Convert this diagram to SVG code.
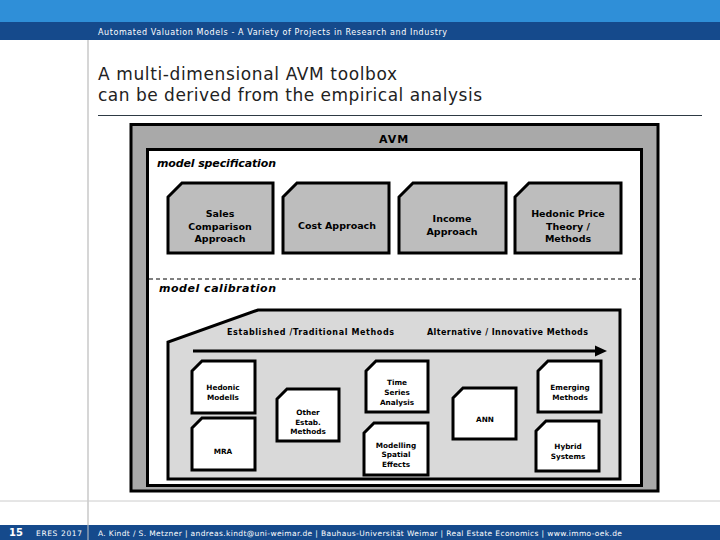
<svg xmlns="http://www.w3.org/2000/svg" width="720" height="540" viewBox="0 0 720 540">
<style>
.hdr{font-family:"DejaVu Sans",Verdana,sans-serif;font-size:8px;fill:#fff}
.title{font-family:"DejaVu Sans",Verdana,sans-serif;font-size:17px;fill:#222}
.foot{font-family:"DejaVu Sans",Verdana,sans-serif;font-size:7.5px;fill:#fff}
.sec{font-family:"DejaVu Sans",Verdana,sans-serif;font-size:11px;font-style:italic;font-weight:bold;fill:#000}
.spec{fill:#bdbdbd;stroke:#000;stroke-width:3}
.spect{font-family:"DejaVu Sans",Verdana,sans-serif;font-size:9.5px;font-weight:bold;fill:#000;text-anchor:middle}
.node{fill:#fff;stroke:#000;stroke-width:3}
.nodet{font-family:"DejaVu Sans",Verdana,sans-serif;font-size:7.3px;font-weight:bold;fill:#000;text-anchor:middle}
.grp{font-family:"DejaVu Sans",Verdana,sans-serif;font-size:8px;font-weight:bold;fill:#000}
</style>
<rect width="720" height="540" fill="#fff"/>
<rect x="0" y="0" width="720" height="22" fill="#2f8fd8"/>
<rect x="0" y="22" width="720" height="18" fill="#154a8c"/>
<text class="hdr" x="98" y="35" textLength="349">Automated Valuation Models - A Variety of Projects in Research and Industry</text>
<line x1="88" y1="40" x2="88" y2="525" stroke="#c8c8c8" stroke-width="1.5"/>
<text class="title" x="98" y="80" textLength="299">A multi-dimensional AVM toolbox</text>
<text class="title" x="98" y="101" textLength="384">can be derived from the empirical analysis</text>
<line x1="98" y1="115.5" x2="702" y2="115.5" stroke="#2e3a44" stroke-width="1"/>
<line x1="0" y1="501" x2="720" y2="501" stroke="#cccccc" stroke-width="1"/>
<rect x="0" y="525" width="720" height="15" fill="#154a8c"/>
<line x1="88" y1="525" x2="88" y2="540" stroke="#c8c8c8" stroke-width="1"/>
<text x="9" y="536" font-family="DejaVu Sans,Verdana,sans-serif" font-size="10" font-weight="bold" fill="#fff">15</text>
<text class="foot" x="36" y="536" textLength="46">ERES 2017</text>
<text class="foot" x="98" y="536" textLength="524">A. Kindt / S. Metzner | andreas.kindt@uni-weimar.de | Bauhaus-Universität Weimar | Real Estate Economics | www.immo-oek.de</text>

<g id="avm">
<rect x="131" y="124.5" width="527" height="366.5" fill="#a9a9a9" stroke="#000" stroke-width="3"/>
<text x="394" y="143" font-family="DejaVu Sans,Verdana,sans-serif" font-size="11" font-weight="bold" letter-spacing="1" text-anchor="middle">AVM</text>
<rect x="147.5" y="149.5" width="494" height="336" fill="#fff" stroke="#000" stroke-width="3"/>
<text class="sec" x="157" y="167" textLength="119">model specification</text>
<line x1="149" y1="279" x2="640" y2="279" stroke="#000" stroke-width="1" stroke-dasharray="4 3"/>
<text class="sec" x="159" y="292" font-size="12px" textLength="117">model calibration</text>
</g>

<g id="sales">
<path class="spec" d="M168,197 L182,183 L273,183 L273,253 L168,253 Z"/>
<text class="spect" x="220" y="217">Sales</text>
<text class="spect" x="220" y="230">Comparison</text>
<text class="spect" x="220" y="242">Approach</text>
</g>
<g id="cost">
<path class="spec" d="M283,197 L297,183 L389,183 L389,253 L283,253 Z"/>
<text class="spect" x="337" y="229">Cost Approach</text>
</g>
<g id="income">
<path class="spec" d="M399,197 L413,183 L506,183 L506,253 L399,253 Z"/>
<text class="spect" x="452" y="222">Income</text>
<text class="spect" x="452" y="235">Approach</text>
</g>
<g id="hedonic-price">
<path class="spec" d="M515,197 L529,183 L621,183 L621,253 L515,253 Z"/>
<text class="spect" x="568" y="217">Hedonic Price</text>
<text class="spect" x="568" y="230">Theory /</text>
<text class="spect" x="568" y="242">Methods</text>
</g>

<g id="calibration">
<path d="M258,310 L620,310 L620,479 L168,479 L168,342 Z" fill="#d9d9d9" stroke="#000" stroke-width="3"/>
<text class="grp" x="227" y="335" textLength="167">Established /Traditional Methods</text>
<text class="grp" x="427" y="335" textLength="161">Alternative / Innovative Methods</text>
</g>

<g id="connectors">
<line x1="193" y1="351" x2="598" y2="351" stroke="#000" stroke-width="3"/>
<polygon points="595,345.5 607,351 595,356.5" fill="#000"/>
</g>

<g id="hedonic-modells">
<path class="node" d="M192,371 L202,361 L255,361 L255,413 L192,413 Z"/>
<text class="nodet" x="223" y="390">Hedonic</text>
<text class="nodet" x="223" y="400">Modells</text>
</g>
<g id="mra">
<path class="node" d="M192,428 L202,418 L255,418 L255,470 L192,470 Z"/>
<text class="nodet" x="223" y="454">MRA</text>
</g>
<g id="other">
<path class="node" d="M277,399 L287,389 L339,389 L339,441 L277,441 Z"/>
<text class="nodet" x="308" y="415">Other</text>
<text class="nodet" x="308" y="425">Estab.</text>
<text class="nodet" x="308" y="434">Methods</text>
</g>
<g id="time-series">
<path class="node" d="M366,371 L376,361 L428,361 L428,412 L366,412 Z"/>
<text class="nodet" x="397" y="385">Time</text>
<text class="nodet" x="397" y="395">Series</text>
<text class="nodet" x="397" y="405">Analysis</text>
</g>
<g id="spatial">
<path class="node" d="M364,433 L374,423 L428,423 L428,475 L364,475 Z"/>
<text class="nodet" x="396" y="448">Modelling</text>
<text class="nodet" x="396" y="457">Spatial</text>
<text class="nodet" x="396" y="467">Effects</text>
</g>
<g id="ann">
<path class="node" d="M453,398 L463,388 L516,388 L516,439 L453,439 Z"/>
<text class="nodet" x="485" y="422">ANN</text>
</g>
<g id="emerging">
<path class="node" d="M538,371 L548,361 L601,361 L601,412 L538,412 Z"/>
<text class="nodet" x="570" y="390">Emerging</text>
<text class="nodet" x="570" y="400">Methods</text>
</g>
<g id="hybrid">
<path class="node" d="M536,431 L546,421 L599,421 L599,471 L536,471 Z"/>
<text class="nodet" x="568" y="449">Hybrid</text>
<text class="nodet" x="568" y="459">Systems</text>
</g>
</svg>
